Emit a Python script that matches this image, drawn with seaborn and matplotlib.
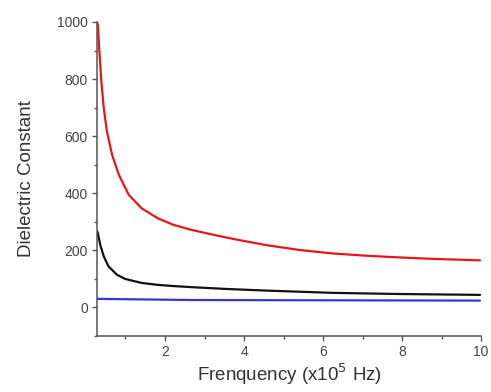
import numpy as np
import pandas as pd
import matplotlib
matplotlib.use("Agg")
import matplotlib.pyplot as plt
import seaborn as sns
from matplotlib.ticker import MultipleLocator

# values (frequency in units of 1e5 Hz)
red_freq = [0.28, 0.30, 0.34, 0.39, 0.45, 0.53, 0.66, 0.83, 1.08, 1.40, 1.82, 2.20,
            2.63, 3.14, 3.72, 4.57, 5.42, 6.25, 7.11, 7.95, 8.78, 9.97]
red_eps = [1000, 990, 896, 791, 698, 617, 535, 465, 395, 348, 312, 290,
           273, 257, 240, 218, 201, 189, 181, 175, 170, 165]

black_freq = [0.28, 0.30, 0.36, 0.45, 0.57, 0.78, 0.99, 1.40, 1.82, 2.20, 2.68,
              3.50, 4.57, 6.25, 7.95, 9.97]
black_eps = [268, 261, 220, 179, 144, 115, 100, 86, 79, 75, 71,
             65, 59, 51, 47, 44]

blue_freq = [0.28, 2.68, 6.0, 9.97]
blue_eps = [30, 26, 25, 24]

sns.set_style("ticks")
plt.rcParams['font.family'] = ['Liberation Sans', 'DejaVu Sans']

fig = plt.figure(figsize=(4.91, 3.92), dpi=100)
ax = fig.add_axes([0.1976, 0.1429, 0.7824, 0.8011])

sns.lineplot(x=red_freq, y=red_eps, ax=ax, color="#e8161b", linewidth=1.6)
sns.lineplot(x=black_freq, y=black_eps, ax=ax, color="#111111", linewidth=1.6)
sns.lineplot(x=blue_freq, y=blue_eps, ax=ax, color="#3535d0", linewidth=1.6)

ax.set_xlim(0.28, 10)
ax.set_ylim(-100, 1000)
ax.xaxis.set_major_locator(MultipleLocator(2))
ax.xaxis.set_minor_locator(MultipleLocator(1))
ax.yaxis.set_major_locator(MultipleLocator(200))
ax.yaxis.set_minor_locator(MultipleLocator(100))
ax.tick_params(which="major", direction="out", length=3.5, width=1, color="#555555",
               labelsize=10, labelcolor="#444444", pad=3)
ax.tick_params(which="minor", direction="out", length=2.5, width=1, color="#555555")
for s in ["left", "bottom"]:
    ax.spines[s].set_color("#555555")
    ax.spines[s].set_linewidth(1.1)
sns.despine(ax=ax)

ax.set_xlabel("Frenquency (x10$^5$ Hz)", fontsize=13.5, color="#333333", labelpad=2)
ax.set_ylabel("Dielectric Constant", fontsize=13.5, color="#333333", labelpad=16)

fig.savefig("out.png", dpi=100)
